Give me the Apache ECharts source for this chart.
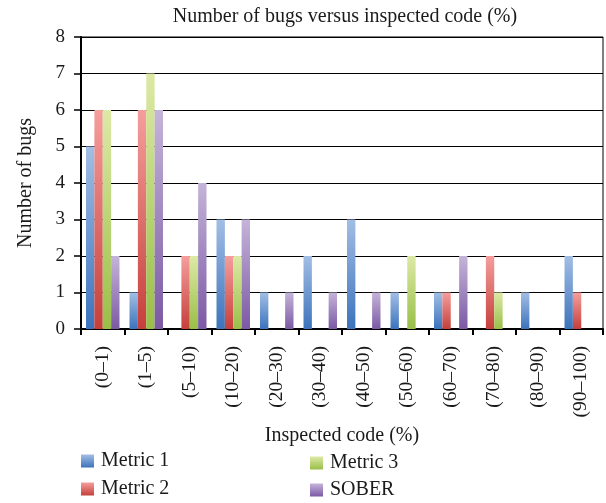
<!DOCTYPE html>
<html>
<head>
<meta charset="utf-8">
<script src="https://cdn.jsdelivr.net/npm/echarts@6/dist/echarts.min.js"></script>
<style>
html,body{margin:0;padding:0;background:#fff;}
#chart{width:606px;height:503px;}
</style>
</head>
<body>
<div id="chart"></div>
<script>
const categories = ['(0–1)', '(1–5)', '(5–10)', '(10–20)', '(20–30)', '(30–40)', '(40–50)', '(50–60)', '(60–70)', '(70–80)', '(80–90)', '(90–100)'];
const metric1 = [5, 1, 0, 3, 1, 2, 3, 1, 1, 0, 1, 2];
const metric2 = [6, 6, 2, 2, 0, 0, 0, 0, 1, 2, 0, 1];
const metric3 = [6, 7, 2, 2, 0, 0, 0, 2, 0, 1, 0, 0];
const sober   = [2, 6, 4, 3, 1, 1, 1, 0, 2, 0, 0, 0];
const yTicks = [0, 1, 2, 3, 4, 5, 6, 7, 8];

const FONT = '"Liberation Serif", "DejaVu Serif", serif';
const TXT = '#1a1a1a';

function grad(top, bottom) {
  return new echarts.graphic.LinearGradient(0, 0, 0, 1, [
    { offset: 0, color: top },
    { offset: 1, color: bottom }
  ]);
}

const seriesDefs = [
  { name: 'Metric 1', data: metric1, color: grad('#A2BEE4', '#3C73BC') },
  { name: 'Metric 2', data: metric2, color: grad('#F59E9C', '#C5403C') },
  { name: 'Metric 3', data: metric3, color: grad('#DDE9A6', '#99BF48') },
  { name: 'SOBER', data: sober, color: grad('#C5B4D9', '#7B59A4') }
];

const chart = echarts.init(document.getElementById('chart'), null, { renderer: 'canvas' });

function legendAt(name, left, top) {
  return {
    data: [name],
    left: left,
    top: top,
    icon: 'rect',
    itemWidth: 13,
    itemHeight: 13,
    itemGap: 0,
    padding: 0,
    selectedMode: false,
    textStyle: { fontFamily: FONT, fontSize: 20, color: TXT, padding: [0, 0, 0, 2] }
  };
}

chart.setOption({
  animation: false,
  title: {
    text: 'Number of bugs versus inspected code (%)',
    left: 340,
    top: 2,
    textAlign: 'center',
    textStyle: { fontFamily: FONT, fontSize: 20, fontWeight: 'normal', color: TXT }
  },
  legend: [
    legendAt('Metric 1', 81, 451),
    legendAt('Metric 2', 81, 479),
    legendAt('Metric 3', 310, 453),
    legendAt('SOBER', 310, 480)
  ],
  grid: {
    left: 81, right: 3, top: 37, bottom: 174,
    show: true, borderColor: '#000', borderWidth: 1
  },
  xAxis: {
    type: 'category',
    data: categories,
    name: 'Inspected code (%)',
    nameLocation: 'middle',
    nameGap: 96,
    nameTextStyle: { fontFamily: FONT, fontSize: 20, color: TXT },
    axisLine: { lineStyle: { color: '#000', width: 2 } },
    axisTick: { show: true, length: 6, lineStyle: { color: '#000', width: 2 } },
    axisLabel: { rotate: 90, margin: 17, fontFamily: FONT, fontSize: 19.5, color: TXT, interval: 0 }
  },
  yAxis: {
    type: 'value',
    min: yTicks[0],
    max: yTicks[yTicks.length - 1],
    interval: 1,
    name: 'Number of bugs',
    nameLocation: 'middle',
    nameGap: 45,
    nameTextStyle: { fontFamily: FONT, fontSize: 20, color: TXT },
    axisLine: { show: true, lineStyle: { color: '#000', width: 2 } },
    axisTick: { show: true, length: 7, lineStyle: { color: '#000', width: 1.5 } },
    axisLabel: { margin: 16, fontFamily: FONT, fontSize: 19, color: TXT },
    splitLine: { show: true, lineStyle: { color: '#000', width: 1 } }
  },
  series: seriesDefs.map(s => ({
    name: s.name,
    type: 'bar',
    data: s.data,
    barGap: '0%',
    barCategoryGap: '23%',
    itemStyle: { color: s.color }
  }))
});
</script>
</body>
</html>
